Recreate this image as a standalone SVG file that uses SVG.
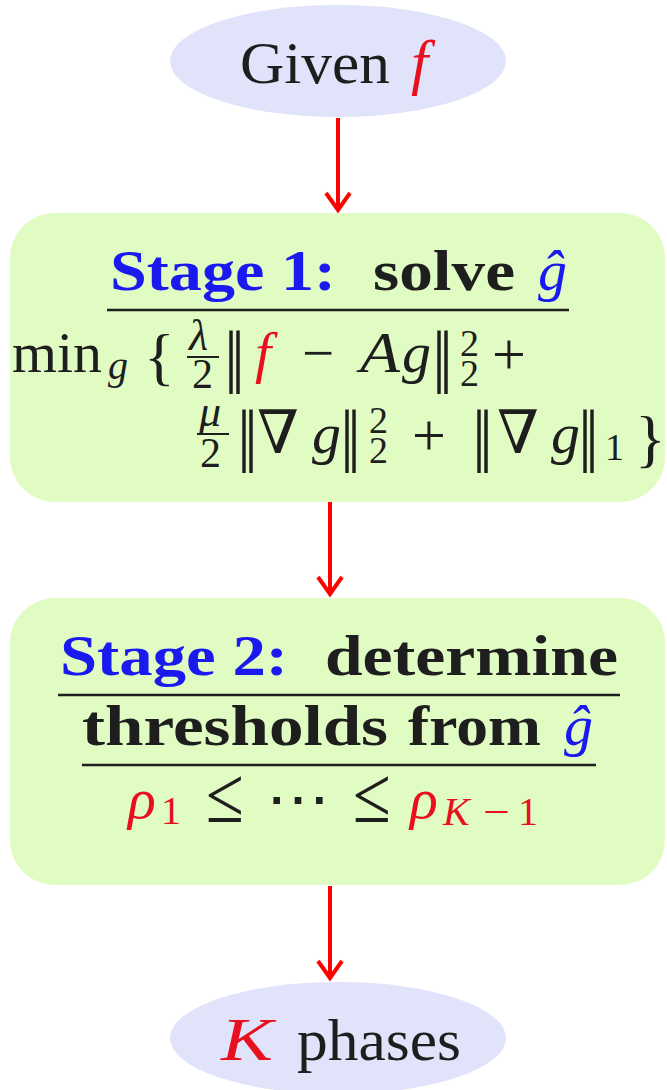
<svg xmlns="http://www.w3.org/2000/svg" width="667" height="1090" viewBox="0 0 667 1090">
<defs>
<marker id="arr" markerUnits="userSpaceOnUse" viewBox="-22 -15 26 30" markerWidth="26" markerHeight="30" refX="0" refY="0" orient="auto" overflow="visible">
<path d="M-17,-12 L0,0 L-17,12" fill="none" stroke="#ff0000" stroke-width="4" stroke-linejoin="miter"/>
</marker>
<style>
.ell{fill:#e0e3fa}
.box{fill:#e1fcc3}
.conn{stroke:#ff0000;stroke-width:4;fill:none}
.rm{font-family:"Liberation Serif","DejaVu Serif",serif;fill:#1e1e1e}
.it{font-family:"Liberation Serif","DejaVu Serif",serif;font-style:italic;fill:#1e1e1e}
.bf{font-family:"Liberation Serif","DejaVu Serif",serif;font-weight:bold;fill:#1e1e1e;font-size:57px}
.sym{font-family:"DejaVu Serif","DejaVu Sans",serif;fill:#1e1e1e}
.nrm{font-family:"Liberation Serif","DejaVu Serif",serif;fill:#1e1e1e;font-size:70px;letter-spacing:-7px}
.blue{fill:#1a1aee}
.red{fill:#e8101e}
.rule{stroke:#1e1e1e;stroke-width:2.5}
.frac{stroke:#1e1e1e;stroke-width:2}
</style>
</defs>

<g id="connectors">
<line class="conn" x1="338" y1="118" x2="338" y2="210" marker-end="url(#arr)"/>
<line class="conn" x1="330" y1="502" x2="330" y2="594" marker-end="url(#arr)"/>
<line class="conn" x1="330" y1="886" x2="330" y2="978" marker-end="url(#arr)"/>
</g>

<g id="given">
<ellipse class="ell" cx="338" cy="61" rx="168" ry="56"/>
<text class="rm" x="240" y="83" font-size="60" textLength="150" lengthAdjust="spacingAndGlyphs">Given</text>
<text class="it red" x="411" y="83" font-size="62">f</text>
</g>

<g id="stage1">
<rect class="box" x="10" y="213" width="655" height="289" rx="45" ry="45"/>
<text class="bf blue" x="110" y="290" textLength="226" lengthAdjust="spacingAndGlyphs">Stage 1:</text>
<text class="bf" x="373" y="290" textLength="142" lengthAdjust="spacingAndGlyphs">solve</text>
<text class="it blue" x="538" y="290" font-size="58">ĝ</text>
<line class="rule" x1="107" y1="310" x2="569" y2="310"/>

<text class="rm" x="12" y="372" font-size="57" textLength="90" lengthAdjust="spacingAndGlyphs">min</text>
<text class="it" x="108" y="379" font-size="40">g</text>
<text class="rm" x="144" y="378" font-size="64">{</text>
<text class="it" x="189" y="350" font-size="44">λ</text>
<line class="frac" x1="187" y1="357" x2="219" y2="357"/>
<text class="rm" x="192" y="388" font-size="42">2</text>
<text class="nrm" x="224" y="379">||</text>
<text class="it red" x="255" y="372" font-size="58">f</text>
<text class="rm" x="302" y="372" font-size="57">−</text>
<text class="it" x="360" y="372" font-size="58" textLength="40" lengthAdjust="spacingAndGlyphs">A</text>
<text class="it" x="402" y="372" font-size="58">g</text>
<text class="nrm" x="432" y="379">||</text>
<text class="rm" x="460" y="356" font-size="38">2</text>
<text class="rm" x="460" y="386" font-size="38">2</text>
<text class="rm" x="492" y="374" font-size="60">+</text>

<text class="it" x="199" y="426" font-size="44">μ</text>
<line class="frac" x1="197" y1="434" x2="229" y2="434"/>
<text class="rm" x="200" y="467" font-size="42">2</text>
<text class="nrm" x="237" y="458">||</text>
<text class="sym" x="257" y="453" font-size="60">∇</text>
<text class="it" x="312" y="453" font-size="58">g</text>
<text class="nrm" x="340" y="458">||</text>
<text class="rm" x="369" y="433" font-size="38">2</text>
<text class="rm" x="369" y="463" font-size="38">2</text>
<text class="rm" x="412" y="455" font-size="60">+</text>
<text class="nrm" x="472" y="458">||</text>
<text class="sym" x="497" y="453" font-size="60">∇</text>
<text class="it" x="551" y="453" font-size="58">g</text>
<text class="nrm" x="578" y="458">||</text>
<text class="rm" x="605" y="460" font-size="38">1</text>
<text class="rm" x="635" y="460" font-size="64">}</text>
</g>

<g id="stage2">
<rect class="box" x="10" y="598" width="655" height="287" rx="45" ry="45"/>
<text class="bf blue" x="60" y="675" textLength="228" lengthAdjust="spacingAndGlyphs">Stage 2:</text>
<text class="bf" x="325" y="675" textLength="293" lengthAdjust="spacingAndGlyphs">determine</text>
<line class="rule" x1="58" y1="695" x2="620" y2="695"/>
<text class="bf" x="82" y="745" textLength="306" lengthAdjust="spacingAndGlyphs">thresholds</text>
<text class="bf" x="408" y="745" textLength="133" lengthAdjust="spacingAndGlyphs">from</text>
<text class="it blue" x="564" y="745" font-size="58">ĝ</text>
<line class="rule" x1="82" y1="765" x2="596" y2="765"/>

<text class="it red" x="128" y="818" font-size="58">ρ</text>
<text class="rm red" x="161" y="824" font-size="40">1</text>
<text class="rm" x="206" y="822" font-size="80" textLength="38" lengthAdjust="spacingAndGlyphs">≤</text>
<text class="rm" x="266" y="818" font-size="57" textLength="64" lengthAdjust="spacingAndGlyphs">⋯</text>
<text class="rm" x="353" y="822" font-size="80" textLength="38" lengthAdjust="spacingAndGlyphs">≤</text>
<text class="it red" x="410" y="818" font-size="58">ρ</text>
<text class="it red" x="443" y="825" font-size="40">K</text>
<text class="rm red" x="483" y="825" font-size="40" textLength="27" lengthAdjust="spacingAndGlyphs">−</text>
<text class="rm red" x="518" y="825" font-size="40">1</text>
</g>

<g id="phases">
<ellipse class="ell" cx="338" cy="1038" rx="168" ry="56"/>
<text class="it red" x="221" y="1060" font-size="62" textLength="52" lengthAdjust="spacingAndGlyphs">K</text>
<text class="rm" x="297" y="1060" font-size="60" textLength="164" lengthAdjust="spacingAndGlyphs">phases</text>
</g>
</svg>
